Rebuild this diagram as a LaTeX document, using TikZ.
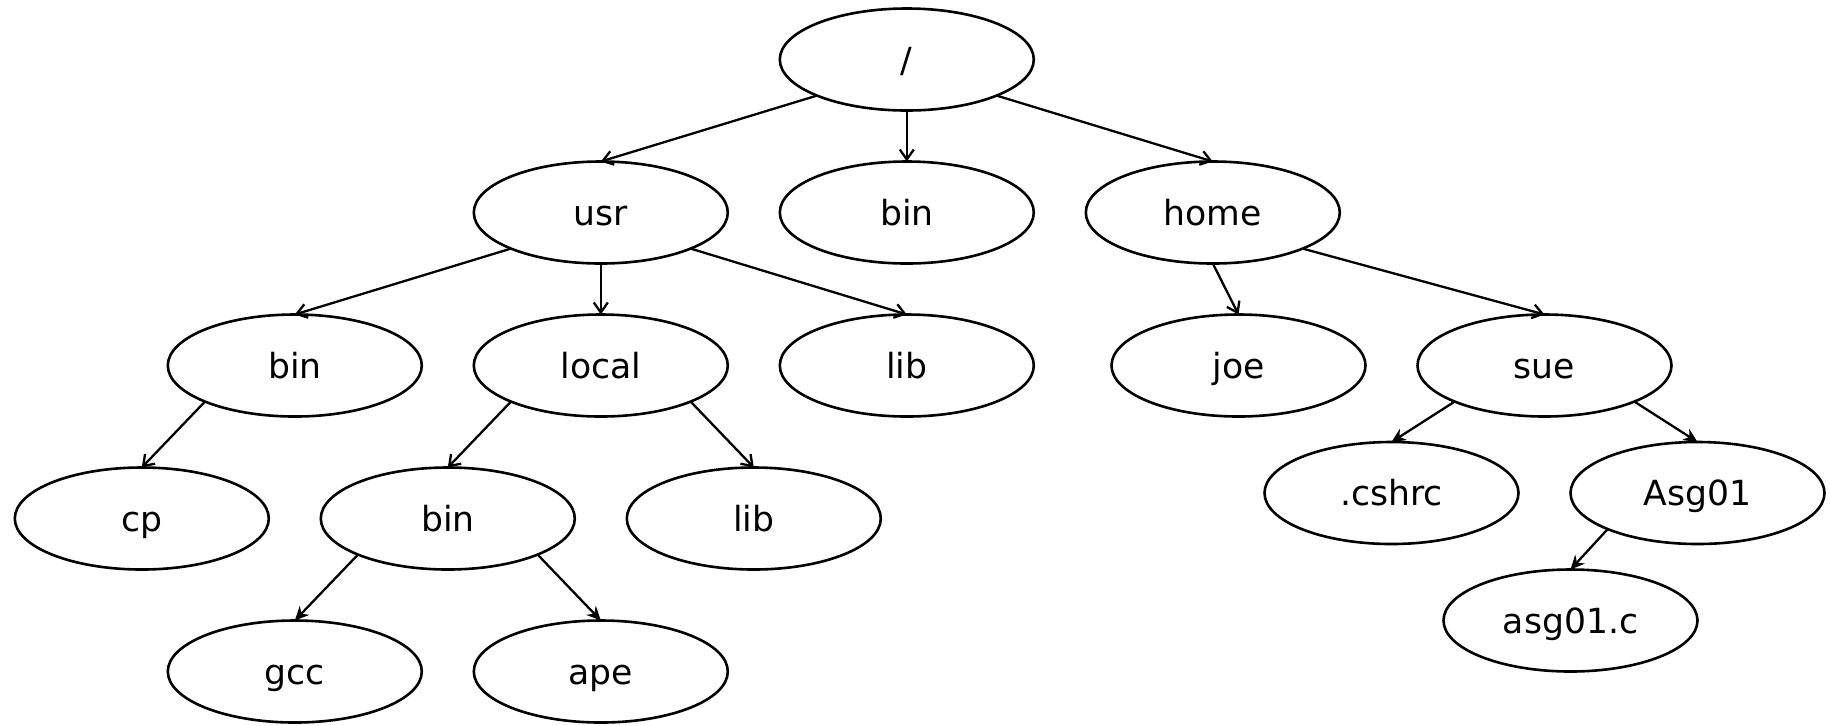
\documentclass[tikz,border=0pt]{standalone}
\usepackage{fontspec}
\setmainfont{DejaVu Sans}
\usetikzlibrary{arrows.meta, positioning, shapes.geometric}

\begin{document}
\begin{tikzpicture}[
node distance=25.5pt and 26pt,
font=\fontsize{17.3}{20}\selectfont,
folder/.style={ellipse, draw, line width=1.3pt, minimum width=127pt, minimum height=51pt, inner sep=0pt, outer sep=0pt, text height=12.6pt, text depth=0pt},
link/.style={line width=1.15pt, -{Straight Barb[length=5pt, width=7pt]}},
solidlink/.style={line width=1.15pt, -{Stealth[length=7pt, width=6.5pt]}}
]

\useasboundingbox (0,0) rectangle (915pt,-362.5pt);

\node[folder] (root) at (453.4pt,-29.75pt) {/};
\node[folder, below=of root] (bin) {bin};
\node[folder, left=of bin] (usr) {usr};
\node[folder, right=of bin] (home) {home};

\node[folder, below=of usr] (local) {local};
\node[folder, left=of local] (usrbin) {bin};
\node[folder, right=of local] (usrlib) {lib};
\node[folder, below=of home, xshift=12.85pt] (joe) {joe};
\node[folder, right=of joe] (sue) {sue};

\node[folder, below=of local, xshift=-76.5pt] (localbin) {bin};
\node[folder, right=of localbin] (locallib) {lib};
\node[folder, left=of localbin] (cp) {cp};
\node[folder, below=12.75pt of sue, xshift=-76.5pt] (cshrc) {.cshrc};
\node[folder, right=of cshrc] (asg) {Asg01};

\node[folder, below=of localbin, xshift=-76.5pt] (gcc) {gcc};
\node[folder, right=of gcc] (ape) {ape};
\node[folder, below=12.75pt of asg, xshift=-63.5pt] (asgc) {asg01.c};

\draw[link] (root.south west) -- (usr.north);
\draw[link] (root.south) -- (bin.north);
\draw[link] (root.south east) -- (home.north);
\draw[link] (usr.south west) -- (usrbin.north);
\draw[link] (usr.south) -- (local.north);
\draw[link] (usr.south east) -- (usrlib.north);
\draw[link] (home.south) -- (joe.north);
\draw[link] (home.south east) -- (sue.north);
\draw[link] (usrbin.south west) -- (cp.north);
\draw[link] (local.south west) -- (localbin.north);
\draw[link] (local.south east) -- (locallib.north);
\draw[solidlink] (localbin.south west) -- (gcc.north);
\draw[solidlink] (localbin.south east) -- (ape.north);
\draw[solidlink] (sue.south west) -- (cshrc.north);
\draw[solidlink] (sue.south east) -- (asg.north);
\draw[solidlink] (asg.south west) -- (asgc.north);

\end{tikzpicture}
\end{document}
